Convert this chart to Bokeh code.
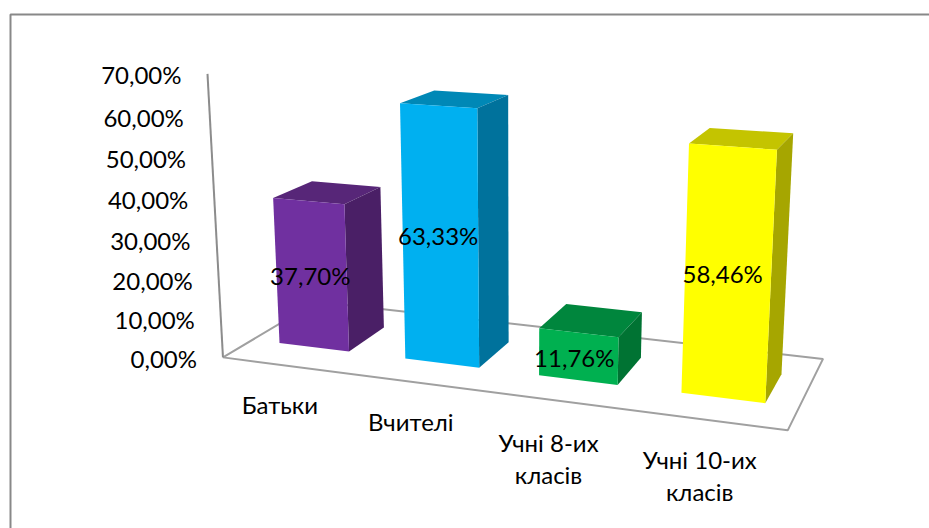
import numpy as np
from bokeh.plotting import figure
from bokeh.models import Range1d
from bokeh.core.properties import value
from bokeh.embed import file_html
from bokeh.resources import INLINE

categories = ["Батьки", "Вчителі", "Учні 8-их\nкласів", "Учні 10-их\nкласів"]
shares = [37.70, 63.33, 11.76, 58.46]
value_labels = ["37,70%", "63,33%", "11,76%", "58,46%"]
ticks = [0, 10, 20, 30, 40, 50, 60, 70]
tick_labels = ["0,00%", "10,00%", "20,00%", "30,00%", "40,00%", "50,00%", "60,00%", "70,00%"]

front_colors = ["#7030A0", "#00B0F0", "#00B050", "#FFFF00"]
top_colors = ["#572678", "#0088B6", "#00863D", "#C4C400"]
side_colors = ["#4A1F66", "#00729C", "#007333", "#A6A600"]

# Camera of the 3-D chart: (category, value, depth) -> page pixels
CAMERA = np.array([
    [117.23958764711966, -0.3681519399572701, 133.0511567680146, 222.46366629526352],
    [5.168497418061224, -4.101955915401538, -18.30687264753781, 356.88099845107087],
    [-0.03042130895743718, -0.0007107502018839585, 0.12406957864412935, 1.0],
])
GAP = 0.22
DEPTH_FRONT, DEPTH_BACK = 0.2936, 0.7064
FONT = value("Lato")
SIZE = "24px"
VALUE_NUDGE = [(-1, 0), (-2, -2), (-4, 1), (-5, -2)]
CATEGORY_NUDGE = [(-6, 39), (-7, 39), (-10, 42), (-9, 39)]
LINE_STEP = 32


def project(x, y, z):
    q = CAMERA @ np.array([x, y, z, 1.0])
    return q[0] / q[2], q[1] / q[2]


def face(corners):
    pts = [project(*c) for c in corners]
    return [c[0] for c in pts], [c[1] for c in pts]


p = figure(width=929, height=528, output_backend="svg", toolbar_location=None,
           x_range=Range1d(0, 929), y_range=Range1d(528, 0), min_border=0,
           outline_line_color=None, background_fill_color="white")
p.axis.visible = False
p.grid.visible = False

# chart frame
p.line([10, 10, 929], [528, 14, 14], line_color="#888888", line_width=2)

# floor and axis wall
n = len(categories)
fx, fy = face([(0, 0, 0), (n, 0, 0), (n, 0, 1), (0, 0, 1), (0, 0, 0)])
p.line(fx, fy, line_color="#A0A0A0", line_width=2)
ax, ay = face([(0, 0, 0), (0, ticks[-1], 0)])
p.line(ax, ay, line_color="#8C8C8C", line_width=2)

# bars
for i, v in enumerate(shares):
    a, b = i + GAP, i + 1 - GAP
    z0, z1 = DEPTH_FRONT, DEPTH_BACK
    x, y = face([(a, v, z0), (b, v, z0), (b, v, z1), (a, v, z1)])
    p.patch(x, y, fill_color=top_colors[i], line_color=None)
    x, y = face([(b, 0, z0), (b, v, z0), (b, v, z1), (b, 0, z1)])
    p.patch(x, y, fill_color=side_colors[i], line_color=None)
    x, y = face([(a, 0, z0), (b, 0, z0), (b, v, z0), (a, v, z0)])
    p.patch(x, y, fill_color=front_colors[i], line_color=None)

# value labels at the middle of each front face
for i, v in enumerate(shares):
    x, y = project(i + 0.5, v / 2, DEPTH_FRONT)
    p.text([x + VALUE_NUDGE[i][0]], [y + VALUE_NUDGE[i][1]], text=[value_labels[i]], text_font=FONT,
           text_font_size=SIZE, text_align="center", text_baseline="middle", text_color="black")

# value-axis labels
for t, lab in zip(ticks, tick_labels):
    x, y = project(0, t, 0)
    p.text([x - 26], [y + 1], text=[lab], text_font=FONT, text_font_size=SIZE,
           text_align="right", text_baseline="middle", text_color="black")

# category labels
for i, cat in enumerate(categories):
    x, y = project(i + 0.5, 0, 0)
    for k, line in enumerate(cat.split("\n")):
        p.text([x + CATEGORY_NUDGE[i][0]], [y + CATEGORY_NUDGE[i][1] + k * LINE_STEP], text=[line],
               text_font=FONT, text_font_size=SIZE,
               text_align="center", text_baseline="middle", text_color="black")

open("out.html", "w").write(file_html(p, INLINE))
